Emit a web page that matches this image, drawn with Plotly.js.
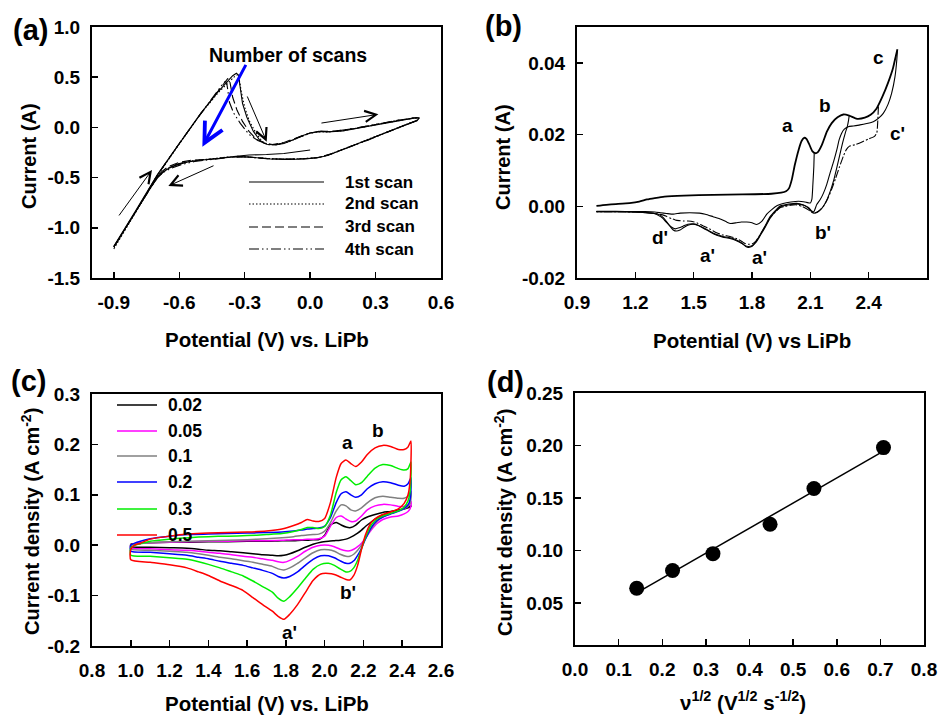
<!DOCTYPE html>
<html>
<head>
<meta charset="utf-8">
<script src="https://cdn.plot.ly/plotly-3.0.1.min.js"></script>
<style>html,body{margin:0;padding:0;background:#fff;}#chart{width:939px;height:716px;}</style>
</head>
<body>
<div id="chart"></div>
<script>
// ---------------- Panel (a): CV, four successive scans ----------------
const scanNamesA = ['1st scan', '2nd scan', '3rd scan', '4th scan'];
const a1x = [0.0,-0.05,-0.12,-0.2,-0.28,-0.35,-0.42,-0.5,-0.56,-0.61,-0.65,-0.68,-0.70,-0.75,-0.80,-0.85,-0.90,-0.87,-0.80,-0.70,-0.60,-0.50,-0.42,-0.38,-0.355,-0.338,-0.328,-0.322,-0.31,-0.29,-0.26,-0.23,-0.20,-0.16,-0.12,-0.08,-0.04,0.0,0.04,0.08,0.15,0.25,0.35,0.43,0.48,0.50,0.49,0.45,0.38,0.30,0.22,0.15,0.08,0.03,-0.03,-0.10,-0.18,-0.26,-0.33,-0.40,-0.47,-0.54,-0.60,-0.64,-0.67,-0.70,-0.74,-0.80,-0.86,-0.90];
const a1y = [-0.225,-0.24,-0.26,-0.27,-0.275,-0.29,-0.31,-0.325,-0.345,-0.375,-0.41,-0.45,-0.49,-0.66,-0.84,-1.01,-1.185,-1.08,-0.83,-0.47,-0.16,0.145,0.36,0.46,0.515,0.54,0.52,0.42,0.24,0.10,-0.04,-0.13,-0.168,-0.175,-0.16,-0.125,-0.085,-0.055,-0.04,-0.045,-0.035,0.005,0.045,0.08,0.095,0.095,0.065,0.035,-0.025,-0.09,-0.16,-0.22,-0.28,-0.305,-0.315,-0.318,-0.315,-0.3,-0.29,-0.305,-0.32,-0.335,-0.36,-0.395,-0.44,-0.5,-0.63,-0.84,-1.05,-1.19];
const a2x = [-0.90,-0.87,-0.80,-0.70,-0.60,-0.50,-0.42,-0.37,-0.345,-0.332,-0.325,-0.315,-0.30,-0.28,-0.25,-0.22,-0.19,-0.15,-0.10,-0.05,0.0,0.04,0.08,0.15,0.25,0.35,0.43,0.48,0.50,0.49,0.45,0.38,0.30,0.22,0.15,0.08,0.03,-0.03,-0.10,-0.18,-0.26,-0.33,-0.40,-0.47,-0.54,-0.60,-0.64,-0.67,-0.70,-0.74,-0.80,-0.86,-0.90];
const a2y = [-1.21,-1.10,-0.845,-0.48,-0.165,0.14,0.35,0.46,0.51,0.525,0.48,0.35,0.20,0.07,-0.05,-0.14,-0.172,-0.172,-0.145,-0.10,-0.058,-0.042,-0.046,-0.033,0.008,0.048,0.082,0.097,0.097,0.068,0.037,-0.022,-0.087,-0.157,-0.217,-0.277,-0.303,-0.313,-0.318,-0.312,-0.297,-0.288,-0.30,-0.318,-0.333,-0.36,-0.39,-0.435,-0.50,-0.63,-0.845,-1.06,-1.21];
const a3x = [-0.90,-0.80,-0.70,-0.60,-0.50,-0.43,-0.395,-0.378,-0.37,-0.365,-0.355,-0.335,-0.31,-0.28,-0.25,-0.21,-0.17,-0.12,-0.06,0.0,0.05,0.10,0.20,0.30,0.40,0.47,0.50,0.49,0.44,0.36,0.27,0.18,0.10,0.04,-0.02,-0.10,-0.20,-0.30,-0.38,-0.46,-0.54,-0.60,-0.65,-0.68,-0.71,-0.75,-0.82,-0.90];
const a3y = [-1.19,-0.84,-0.475,-0.16,0.14,0.34,0.44,0.485,0.48,0.42,0.30,0.17,0.06,-0.04,-0.11,-0.16,-0.17,-0.15,-0.10,-0.055,-0.04,-0.04,-0.012,0.03,0.07,0.092,0.098,0.07,0.03,-0.04,-0.12,-0.195,-0.26,-0.298,-0.31,-0.316,-0.31,-0.29,-0.298,-0.318,-0.325,-0.348,-0.39,-0.44,-0.51,-0.665,-0.91,-1.19];
const a4x = [-0.90,-0.80,-0.70,-0.60,-0.50,-0.44,-0.405,-0.39,-0.383,-0.378,-0.37,-0.35,-0.32,-0.28,-0.24,-0.20,-0.16,-0.11,-0.05,0.0,0.05,0.10,0.20,0.30,0.40,0.47,0.50,0.49,0.44,0.36,0.27,0.18,0.10,0.04,-0.02,-0.10,-0.20,-0.30,-0.38,-0.46,-0.53,-0.59,-0.64,-0.675,-0.70,-0.75,-0.82,-0.90];
const a4y = [-1.19,-0.84,-0.475,-0.16,0.14,0.32,0.42,0.455,0.45,0.38,0.25,0.14,0.04,-0.07,-0.13,-0.165,-0.17,-0.15,-0.095,-0.055,-0.04,-0.042,-0.012,0.03,0.07,0.09,0.096,0.068,0.028,-0.042,-0.122,-0.198,-0.262,-0.3,-0.312,-0.318,-0.312,-0.292,-0.3,-0.322,-0.34,-0.37,-0.41,-0.45,-0.5,-0.665,-0.91,-1.19];
// arrows in panel (a): [tailX, tailY, headX, headY]
const arrowsA = [[-0.881,-0.892,-0.725,-0.424],[-0.291,0.323,-0.199,-0.142],[0.045,0.041,0.313,0.130],[-0.436,-0.375,-0.650,-0.584]];
const blueArrowA = [-0.291,0.638,-0.494,-0.192];

// ---------------- Panel (b): CV with different switching potentials ----------------
const bAnoX = [1.0,1.05,1.1,1.17,1.22,1.26,1.3,1.35,1.45,1.6,1.75,1.9,1.95,1.975,1.99,2.005,2.02,2.04,2.055,2.068,2.08,2.095,2.11,2.125,2.14,2.16,2.185,2.21,2.24,2.27,2.3,2.34,2.38,2.41,2.44,2.47,2.5,2.525,2.54,2.548];
const bAnoY = [0.0001,0.0004,0.0006,0.0009,0.0013,0.0019,0.0023,0.0027,0.003,0.0032,0.0033,0.0035,0.0038,0.0042,0.005,0.0075,0.0115,0.0158,0.0182,0.0191,0.0188,0.0172,0.0154,0.0148,0.0152,0.0172,0.0208,0.0232,0.0248,0.0256,0.0253,0.0244,0.0247,0.0255,0.0272,0.0305,0.0345,0.0385,0.042,0.0438];
const bRet1X = [2.12,2.118,2.113,2.108,2.10,2.08,2.04,2.0,1.96,1.93,1.9,1.876,1.85,1.824,1.80,1.773,1.745,1.72,1.69,1.67,1.64,1.6,1.56,1.53,1.48,1.43,1.395,1.36,1.33,1.3,1.25,1.2,1.1,1.0];
const bRet1Y = [0.0148,0.011,0.006,0.002,0.0009,0.0011,0.0014,0.0012,0.0008,0.0002,-0.001,-0.0022,-0.0042,-0.0051,-0.0046,-0.0044,-0.0044,-0.0046,-0.0048,-0.0044,-0.0036,-0.0029,-0.0022,-0.0019,-0.0018,-0.0019,-0.0022,-0.002,-0.0018,-0.0016,-0.0015,-0.0015,-0.0014,-0.0014];
const bRet2X = [2.30,2.296,2.29,2.28,2.265,2.25,2.235,2.22,2.2,2.18,2.16,2.145,2.13,2.118,2.108,2.095,2.07,2.04,2.0,1.97,1.944,1.92,1.893,1.87,1.841,1.82,1.8,1.781,1.765,1.75,1.72,1.687,1.65,1.618,1.585,1.55,1.52,1.498,1.47,1.447,1.425,1.405,1.385,1.36,1.34,1.32,1.3,1.25,1.2,1.1,1.0];
const bRet2Y = [0.0253,0.0238,0.0222,0.0205,0.0175,0.014,0.0105,0.0072,0.0038,0.0012,-0.0005,-0.0013,-0.0018,-0.0019,-0.0016,-0.0008,0.0002,0.0006,0.0005,0.0002,-0.0002,-0.0015,-0.0033,-0.0056,-0.0083,-0.0101,-0.011,-0.0112,-0.011,-0.0104,-0.0094,-0.0088,-0.0084,-0.0079,-0.007,-0.006,-0.0052,-0.0049,-0.005,-0.0055,-0.006,-0.0063,-0.0058,-0.0045,-0.0033,-0.0026,-0.0021,-0.0018,-0.0016,-0.0015,-0.0015];
const bRet3X = [2.45,2.447,2.442,2.43,2.40,2.36,2.33,2.30,2.285,2.27,2.25,2.23,2.21,2.19,2.17,2.15,2.135,2.12,2.105,2.09,2.06,2.03,2.0,1.97,1.944,1.92,1.893,1.87,1.841,1.82,1.8,1.781,1.765,1.75,1.72,1.687,1.65,1.618,1.585,1.55,1.52,1.498,1.47,1.447,1.425,1.405,1.385,1.36,1.34,1.3,1.25,1.2,1.1,1.0];
const bRet3Y = [0.0278,0.024,0.0205,0.0195,0.0188,0.0178,0.0172,0.0167,0.0158,0.014,0.011,0.0078,0.0048,0.0022,0.0002,-0.001,-0.0016,-0.0019,-0.0016,-0.001,-0.0001,0.0004,0.0003,0.0,-0.0004,-0.0016,-0.0032,-0.0054,-0.008,-0.0097,-0.0105,-0.0106,-0.0104,-0.0099,-0.009,-0.0084,-0.008,-0.0074,-0.0064,-0.0055,-0.0047,-0.0043,-0.0041,-0.0041,-0.004,-0.0038,-0.0034,-0.0028,-0.0024,-0.002,-0.0017,-0.0016,-0.0015,-0.0015];
const bRet4X = [2.548,2.545,2.535,2.518,2.50,2.475,2.45,2.424,2.39,2.355,2.32,2.295,2.275,2.261,2.248,2.236,2.22,2.201,2.185,2.167,2.15,2.133,2.118,2.105,2.09,2.06,2.03,2.0,1.97,1.944,1.92,1.893,1.87,1.841,1.82,1.807,1.795,1.781,1.768,1.755,1.72,1.687,1.65,1.618,1.585,1.55,1.52,1.498,1.47,1.447,1.43,1.412,1.395,1.369,1.345,1.327,1.3,1.259,1.2,1.1,1.0];
const bRet4Y = [0.0436,0.041,0.036,0.0315,0.0285,0.0259,0.0245,0.0236,0.0231,0.0227,0.0224,0.0222,0.0215,0.0204,0.0185,0.0157,0.0125,0.0092,0.0062,0.0036,0.0018,0.0005,-0.0015,-0.0012,-0.0003,0.0004,0.0008,0.0007,0.0004,0.0001,-0.0012,-0.0029,-0.0052,-0.008,-0.0099,-0.0108,-0.0113,-0.0115,-0.0112,-0.0106,-0.0096,-0.009,-0.0086,-0.0081,-0.0072,-0.0061,-0.0053,-0.005,-0.0053,-0.006,-0.0066,-0.0069,-0.0066,-0.0049,-0.0032,-0.0024,-0.002,-0.0018,-0.0016,-0.0015,-0.0015];
const peakLabelsB = [['a',1.985,0.0224],['b',2.175,0.028],['c',2.453,0.0416],["c'",2.546,0.0202],["b'",2.165,-0.0074],["d'",1.327,-0.0088],["a'",1.569,-0.0136],["a'",1.841,-0.0144]];

// ---------------- Panel (c): CV at different scan rates ----------------
const scanRates = [0.02, 0.05, 0.1, 0.2, 0.3, 0.5];
const rateLabels = ['0.02', '0.05', '0.1', '0.2', '0.3', '0.5'];
const rateColors = ['#000000', '#ff00ff', '#808080', '#0000ff', '#00ee00', '#ff0000'];
const cAnoX = [1.0,1.0,1.02,1.05,1.1,1.2,1.3,1.4,1.5,1.6,1.7,1.78,1.84,1.88,1.91,1.94,1.97,2.0,2.03,2.06,2.085,2.11,2.135,2.16,2.19,2.22,2.26,2.3,2.34,2.38,2.41,2.43,2.445];
const cCatX = [2.445,2.44,2.43,2.41,2.38,2.34,2.3,2.27,2.24,2.21,2.19,2.17,2.15,2.13,2.11,2.08,2.05,2.02,1.98,1.94,1.9,1.86,1.82,1.79,1.76,1.73,1.68,1.63,1.58,1.52,1.46,1.4,1.35,1.29,1.2,1.1,1.0];
const cAnoY = [
  [-0.003,0.002,0.003,0.004,0.005,0.006,0.006,0.007,0.007,0.008,0.008,0.009,0.009,0.01,0.01,0.011,0.011,0.02,0.04,0.045,0.04,0.036,0.035,0.04,0.05,0.056,0.061,0.065,0.067,0.07,0.073,0.076,0.078],
  [-0.006,0.0,0.003,0.004,0.005,0.006,0.007,0.008,0.008,0.009,0.009,0.01,0.011,0.011,0.012,0.012,0.013,0.018,0.038,0.055,0.058,0.052,0.047,0.048,0.058,0.07,0.078,0.081,0.08,0.077,0.077,0.08,0.087],
  [-0.008,0.0,0.002,0.003,0.005,0.007,0.008,0.009,0.01,0.011,0.013,0.015,0.017,0.019,0.02,0.021,0.022,0.028,0.045,0.068,0.08,0.078,0.07,0.068,0.074,0.084,0.094,0.097,0.095,0.093,0.093,0.097,0.107],
  [-0.012,0.0,0.004,0.008,0.013,0.018,0.021,0.022,0.023,0.024,0.025,0.026,0.028,0.03,0.032,0.033,0.034,0.038,0.055,0.085,0.102,0.106,0.1,0.095,0.1,0.112,0.122,0.126,0.124,0.119,0.117,0.122,0.134],
  [-0.02,-0.005,0.0,0.003,0.008,0.012,0.015,0.017,0.018,0.019,0.021,0.023,0.027,0.031,0.035,0.035,0.033,0.037,0.06,0.105,0.13,0.136,0.128,0.12,0.124,0.137,0.153,0.16,0.158,0.152,0.149,0.152,0.165],
  [-0.029,-0.008,0.0,0.004,0.012,0.018,0.022,0.024,0.025,0.026,0.028,0.032,0.039,0.045,0.051,0.048,0.047,0.053,0.085,0.135,0.162,0.169,0.162,0.156,0.165,0.18,0.193,0.198,0.196,0.19,0.19,0.195,0.207]
];
const cCatY = [
  [0.077,0.076,0.074,0.072,0.07,0.066,0.06,0.054,0.046,0.037,0.03,0.024,0.019,0.015,0.012,0.01,0.009,0.008,0.006,0.002,-0.004,-0.011,-0.017,-0.02,-0.021,-0.02,-0.019,-0.017,-0.015,-0.013,-0.011,-0.01,-0.008,-0.006,-0.005,-0.004,-0.003],
  [0.078,0.072,0.067,0.062,0.058,0.056,0.051,0.043,0.03,0.014,0.004,-0.003,-0.008,-0.011,-0.011,-0.008,-0.003,0.0,0.0,-0.004,-0.012,-0.022,-0.03,-0.034,-0.033,-0.03,-0.027,-0.024,-0.022,-0.019,-0.016,-0.014,-0.012,-0.01,-0.009,-0.007,-0.006],
  [0.092,0.082,0.077,0.072,0.068,0.063,0.056,0.047,0.033,0.013,0.0,-0.01,-0.018,-0.022,-0.022,-0.018,-0.012,-0.009,-0.009,-0.015,-0.025,-0.036,-0.045,-0.049,-0.047,-0.042,-0.038,-0.034,-0.031,-0.027,-0.024,-0.02,-0.017,-0.014,-0.012,-0.01,-0.008],
  [0.11,0.09,0.08,0.073,0.067,0.062,0.056,0.049,0.035,0.012,-0.006,-0.02,-0.031,-0.036,-0.036,-0.031,-0.025,-0.021,-0.021,-0.028,-0.04,-0.053,-0.062,-0.065,-0.062,-0.056,-0.05,-0.045,-0.04,-0.036,-0.032,-0.027,-0.024,-0.02,-0.017,-0.014,-0.012],
  [0.135,0.105,0.088,0.076,0.068,0.063,0.058,0.052,0.04,0.015,-0.007,-0.03,-0.045,-0.052,-0.053,-0.047,-0.04,-0.036,-0.038,-0.048,-0.066,-0.085,-0.102,-0.111,-0.105,-0.093,-0.082,-0.071,-0.061,-0.053,-0.045,-0.038,-0.033,-0.028,-0.025,-0.022,-0.02],
  [0.165,0.125,0.1,0.083,0.072,0.066,0.061,0.055,0.045,0.02,-0.008,-0.04,-0.06,-0.069,-0.068,-0.063,-0.058,-0.056,-0.057,-0.07,-0.094,-0.118,-0.137,-0.147,-0.141,-0.131,-0.118,-0.104,-0.09,-0.08,-0.071,-0.06,-0.053,-0.045,-0.039,-0.034,-0.029]
];
const peakLabelsC = [['a',2.12,0.2028],['b',2.275,0.2266],["b'",2.12,-0.0948],["a'",1.821,-0.174]];

// ---------------- Panel (d): peak current vs sqrt(scan rate) ----------------
const peakCurrentD = [0.064, 0.081, 0.097, 0.125, 0.159, 0.198];

// ---------------- tick labels ----------------
const tickAx = [-0.9,-0.6,-0.3,0.0,0.3,0.6], tickAxT = ['-0.9','-0.6','-0.3','0.0','0.3','0.6'];
const tickAy = [-1.5,-1.0,-0.5,0.0,0.5,1.0], tickAyT = ['-1.5','-1.0','-0.5','0.0','0.5','1.0'];
const tickBx = [0.9,1.2,1.5,1.8,2.1,2.4,2.7], tickBxT = ['0.9','1.2','1.5','1.8','2.1','2.4','2.7'];
const tickBy = [-0.02,0.0,0.02,0.04], tickByT = ['-0.02','0.00','0.02','0.04'];
const tickCx = [0.8,1.0,1.2,1.4,1.6,1.8,2.0,2.2,2.4,2.6], tickCxT = ['0.8','1.0','1.2','1.4','1.6','1.8','2.0','2.2','2.4','2.6'];
const tickCy = [-0.2,-0.1,0.0,0.1,0.2,0.3], tickCyT = ['-0.2','-0.1','0.0','0.1','0.2','0.3'];
const tickDx = [0.0,0.1,0.2,0.3,0.4,0.5,0.6,0.7,0.8], tickDxT = ['0.0','0.1','0.2','0.3','0.4','0.5','0.6','0.7','0.8'];
const tickDy = [0.05,0.10,0.15,0.20,0.25], tickDyT = ['0.05','0.10','0.15','0.20','0.25'];

// ================= build =================
const W = 939, H = 716;
const PX = v => v / W, PY = v => 1 - v / H;
const FONT = 'Liberation Sans, Arial, Helvetica, sans-serif';

const traces = [];
const aDash = ['solid', '1.5px,2px', '9px,4px', '10px,3px,1.5px,3px,1.5px,3px'];
const aData = [[a1x,a1y],[a2x,a2y],[a3x,a3y],[a4x,a4y]];
aData.forEach((d, k) => traces.push({x: d[0], y: d[1], xaxis: 'x', yaxis: 'y', mode: 'lines', name: scanNamesA[k],
  line: {color: 'black', width: 1.1, dash: aDash[k]}, showlegend: false}));

traces.push({x: bAnoX, y: bAnoY, xaxis: 'x2', yaxis: 'y2', mode: 'lines', line: {color: 'black', width: 1.8, shape: 'spline', smoothing: 0.5}, showlegend: false});
[[bRet1X,bRet1Y,'solid'],[bRet2X,bRet2Y,'solid'],[bRet3X,bRet3Y,'8px,2px,2px,2px'],[bRet4X,bRet4Y,'solid']].forEach(d =>
  traces.push({x: d[0], y: d[1], xaxis: 'x2', yaxis: 'y2', mode: 'lines', line: {color: 'black', width: 1.1, dash: d[2], shape: 'spline', smoothing: 0.5}, showlegend: false}));

scanRates.forEach((r, k) => traces.push({x: cAnoX.concat(cCatX), y: cAnoY[k].concat(cCatY[k]), xaxis: 'x3', yaxis: 'y3', mode: 'lines',
  name: rateLabels[k], line: {color: rateColors[k], width: 1.5, shape: 'spline', smoothing: 0.6}, showlegend: false}));

const dX = scanRates.map(Math.sqrt);
const n = dX.length;
const mx = dX.reduce((s, v) => s + v, 0) / n, my = peakCurrentD.reduce((s, v) => s + v, 0) / n;
let sxy = 0, sxx = 0;
for (let i = 0; i < n; i++) { sxy += (dX[i] - mx) * (peakCurrentD[i] - my); sxx += (dX[i] - mx) ** 2; }
const slope = sxy / sxx, icpt = my - slope * mx;
const fitX = [dX[0], dX[n - 1]], fitY = fitX.map(v => icpt + slope * v);
traces.push({x: fitX, y: fitY, xaxis: 'x4', yaxis: 'y4', mode: 'lines', line: {color: 'black', width: 1.5}, showlegend: false});
traces.push({x: dX, y: peakCurrentD, xaxis: 'x4', yaxis: 'y4', mode: 'markers', marker: {color: 'black', size: 15}, showlegend: false});

function ax(domain, anchor, range, tv, tt) {
  return {domain: domain, anchor: anchor, range: range, tickmode: 'array', tickvals: tv, ticktext: tt,
    showline: true, mirror: true, linecolor: 'black', linewidth: 2, ticks: 'inside', ticklen: 6, tickwidth: 1.5, tickcolor: 'black',
    showgrid: false, zeroline: false, fixedrange: true, ticklabelstandoff: 6,
    tickfont: {family: FONT, size: 19, color: 'black', weight: 'bold'}};
}
const domAx = [PX(92), PX(441)], domBx = [PX(577), PX(927)], domCx = [PX(92), PX(441)], domDx = [PX(575), PX(924)];
const domTop = [PY(278), PY(27)], domCy = [PY(646), PY(394)], domDy = [PY(645), PY(393)];

const ann = [];
function txt(text, x, y, size, opts) {
  ann.push(Object.assign({text: '<b>' + text + '</b>', x: x, y: y, xref: 'paper', yref: 'paper', showarrow: false,
    xanchor: 'center', yanchor: 'middle', font: {family: FONT, size: size, color: 'black'}}, opts || {}));
}
// panel labels
txt('(a)', PX(30), PY(30), 29); txt('(b)', PX(503), PY(26), 29); txt('(c)', PX(28), PY(381), 29); txt('(d)', PX(505), PY(382), 29);
// axis titles
txt('Potential (V) vs. LiPb', PX(266.5), PY(339), 20.5);
txt('Potential (V) vs LiPb', PX(752), PY(340), 20.5);
txt('Potential (V) vs. LiPb', PX(266.5), PY(703), 20.5);
txt('ν<sup>1/2</sup> (V<sup>1/2</sup> s<sup>-1/2</sup>)', PX(743), PY(701), 20.5);
txt('Current (A)', PX(29), PY(156), 20, {textangle: -90});
txt('Current (A)', PX(503), PY(157), 20, {textangle: -90});
txt('Current density (A cm<sup>-2</sup>)', PX(30), PY(522), 20, {textangle: -90});
txt('Current density (A cm<sup>-2</sup>)', PX(503), PY(523), 20, {textangle: -90});
// panel (a) text + arrows
ann.push({text: '<b>Number of scans</b>', x: -0.101, y: 0.72, xref: 'x', yref: 'y', showarrow: false, font: {family: FONT, size: 19.5, color: 'black'}});
arrowsA.forEach(a => ann.push({x: a[2], y: a[3], ax: a[0], ay: a[1], xref: 'x', yref: 'y', axref: 'x', ayref: 'y', text: '',
  showarrow: true, arrowhead: 5, arrowsize: 2.2, arrowwidth: 1, arrowcolor: 'black', standoff: 0}));
ann.push({x: blueArrowA[2], y: blueArrowA[3], ax: blueArrowA[0], ay: blueArrowA[1], xref: 'x', yref: 'y', axref: 'x', ayref: 'y', text: '',
  showarrow: true, arrowhead: 5, arrowsize: 1.3, arrowwidth: 3, arrowcolor: '#0000ff', standoff: 0});
// peak letters
peakLabelsB.forEach(p => ann.push({text: '<b>' + p[0] + '</b>', x: p[1], y: p[2], xref: 'x2', yref: 'y2', showarrow: false, font: {family: FONT, size: 19, color: 'black'}}));
peakLabelsC.forEach(p => ann.push({text: '<b>' + p[0] + '</b>', x: p[1], y: p[2], xref: 'x3', yref: 'y3', showarrow: false, font: {family: FONT, size: 19, color: 'black'}}));

// legends (drawn manually)
const shapes = [];
const legRowsA = [182, 204, 227, 249];
scanNamesA.forEach((nm, k) => {
  shapes.push({type: 'line', xref: 'paper', yref: 'paper', x0: PX(249), x1: PX(324), y0: PY(legRowsA[k]), y1: PY(legRowsA[k]),
    line: {color: 'black', width: 1.1, dash: aDash[k]}});
  txt(nm, PX(343), PY(legRowsA[k]), 17, {xanchor: 'left'});
});
const legRowsC = [405, 431, 456, 482, 509, 535];
rateLabels.forEach((nm, k) => {
  shapes.push({type: 'line', xref: 'paper', yref: 'paper', x0: PX(117), x1: PX(157), y0: PY(legRowsC[k]), y1: PY(legRowsC[k]),
    line: {color: rateColors[k], width: 1.5}});
  txt(nm, PX(166), PY(legRowsC[k]), 17.5, {xanchor: 'left'});
});

const layout = {
  width: W, height: H, margin: {l: 0, r: 0, t: 0, b: 0}, paper_bgcolor: 'white', plot_bgcolor: 'white', showlegend: false,
  font: {family: FONT, color: 'black'},
  xaxis: ax(domAx, 'y', [-1.0, 0.6], tickAx, tickAxT), yaxis: ax(domTop, 'x', [-1.5, 1.0], tickAy, tickAyT),
  xaxis2: ax(domBx, 'y2', [0.9, 2.7], tickBx, tickBxT), yaxis2: ax(domTop, 'x2', [-0.02, 0.05], tickBy, tickByT),
  xaxis3: ax(domCx, 'y3', [0.8, 2.6], tickCx, tickCxT), yaxis3: ax(domCy, 'x3', [-0.2, 0.3], tickCy, tickCyT),
  xaxis4: ax(domDx, 'y4', [0.0, 0.8], tickDx, tickDxT), yaxis4: ax(domDy, 'x4', [0.01, 0.25], tickDy, tickDyT),
  annotations: ann, shapes: shapes
};
Plotly.newPlot('chart', traces, layout, {displayModeBar: false, staticPlot: true});
</script>
</body>
</html>
